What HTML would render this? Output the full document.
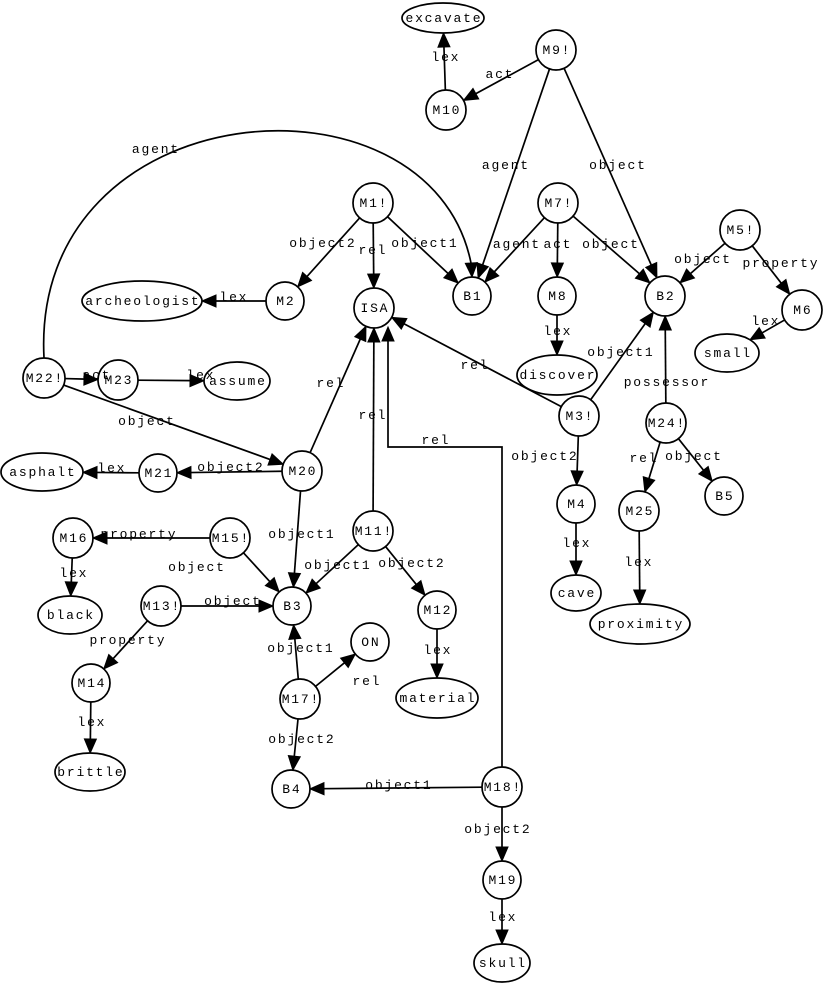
<!DOCTYPE html>
<html><head><meta charset="utf-8"><style>
html,body{margin:0;padding:0;background:#fff;}
svg text{font-family:"Liberation Mono",monospace;font-size:13px;fill:#000;letter-spacing:1.8px;}
</style></head><body>
<svg id="g" width="823" height="983" xmlns="http://www.w3.org/2000/svg"></svg>
<script>
var N={
excavate:[443,18,41,15,'excavate'],M9:[556,50,20,20,'M9!'],M10:[446,110,20,20,'M10'],
M1:[373,203,20,20,'M1!'],M7:[558,203,20,20,'M7!'],M5:[740,230,20,20,'M5!'],
arch:[142,301,60,20,'archeologist'],M2:[285,301,19,19,'M2'],ISA:[374,308,20,20,'ISA'],
B1:[472,296,19,19,'B1'],M8:[557,296,19,19,'M8'],B2:[665,296,20,20,'B2'],M6:[802,310,20,20,'M6'],
small:[727,353,32,19,'small'],discover:[557,375,40,20,'discover'],M22:[44,378,21,20,'M22!'],
M23:[118,380,20,20,'M23'],assume:[237,381,33,19,'assume'],M3:[579,416,20,20,'M3!'],
M24:[666,423,20,20,'M24!'],asphalt:[42,472,41,19,'asphalt'],M21:[158,473,19,19,'M21'],
M20:[302,471,20,20,'M20'],M4:[576,504,19,19,'M4'],M25:[639,511,20,20,'M25'],B5:[724,496,19,19,'B5'],
M11:[373,531,20,20,'M11!'],M16:[73,538,20,20,'M16'],M15:[230,538,20,20,'M15!'],
M13:[161,606,20,20,'M13!'],B3:[292,606,19,19,'B3'],black:[70,615,32,19,'black'],
M12:[437,610,19,19,'M12'],cave:[576,593,25,18,'cave'],proximity:[640,624,50,20,'proximity'],
ON:[370,642,19,19,'ON'],M14:[91,683,19,19,'M14'],M17:[300,699,20,20,'M17!'],
material:[437,698,41,20,'material'],brittle:[90,772,35,19,'brittle'],B4:[291,789,19,19,'B4'],
M18:[502,787,20,20,'M18!'],M19:[502,880,19,19,'M19'],skull:[502,963,28,19,'skull']};
var E=[
['M10','excavate'],['M9','M10'],['M9','B1'],['M9','B2'],['M1','M2'],['M1','ISA'],['M1','B1'],
['M7','B1'],['M7','M8'],['M7','B2'],['M5','B2'],['M5','M6'],['M2','arch'],['M6','small'],
['M8','discover'],['M3','B2'],['M3','ISA'],['M24','B2'],['M22','M23'],['M23','assume'],
['M22','M20'],['M20','ISA'],['M11','ISA'],['M3','M4'],['M24','M25'],['M24','B5'],
['M20','M21'],['M21','asphalt'],['M20','B3'],['M4','cave'],['M25','proximity'],
['M15','M16'],['M15','B3'],['M11','B3'],['M11','M12'],['M16','black'],['M13','B3'],
['M13','M14'],['M17','B3'],['M17','ON'],['M12','material'],['M14','brittle'],['M17','B4'],
['M18','B4'],['M18','M19'],['M19','skull']];
var L=[['lex',445,61],['act',499,78],['agent',155,153],['agent',505,169],['object',617,169],
['object2',322,247],['rel',372,254],['object1',424,247],['agent',516,248],['act',557,248],['object',610,248],
['object',702,263],['property',780,267],['lex',233,301],['lex',765,325],['lex',557,335],['object1',620,356],
['rel',474,369],['possessor',666,386],['act',96,379],['lex',200,379],['rel',330,387],['object',146,425],
['rel',372,419],['rel',435,444],['object2',544,460],['rel',643,462],['object',693,460],['lex',111,472],
['object2',230,471],['object1',301,538],['lex',576,547],['lex',638,566],['property',138,538],['object',196,571],
['object1',337,569],['object2',411,567],['object',232,605],['lex',73,577],['property',127,644],
['object1',300,652],['lex',437,654],['rel',366,685],['lex',91,726],['object2',301,743],['object1',398,789],
['object2',497,833],['lex',502,921]];
var s='';
function bd(n,x,y){var c=N[n],dx=x-c[0],dy=y-c[1];var t=1/Math.sqrt(dx*dx/(c[2]*c[2])+dy*dy/(c[3]*c[3]));return [c[0]+dx*t,c[1]+dy*t];}
function arrow(tx,ty,ux,uy){var l=14,w=6,bx=tx-ux*l,by=ty-uy*l;
return '<polygon points="'+tx+','+ty+' '+(bx-uy*w)+','+(by+ux*w)+' '+(bx+uy*w)+','+(by-ux*w)+'" fill="#000" stroke="#000" stroke-width="1"/>';}
E.forEach(function(e){var a=N[e[0]],b=N[e[1]];var p=bd(e[0],b[0],b[1]),q=bd(e[1],a[0],a[1]);
var dx=q[0]-p[0],dy=q[1]-p[1],d=Math.hypot(dx,dy),ux=dx/d,uy=dy/d;
s+='<line x1="'+p[0]+'" y1="'+p[1]+'" x2="'+(q[0]-ux*12)+'" y2="'+(q[1]-uy*12)+'" stroke="#000" stroke-width="1.7"/>';
s+=arrow(q[0],q[1],ux,uy);});
s+='<path d="M44,358 C30,90 430,60 471,263" fill="none" stroke="#000" stroke-width="1.7"/>'+arrow(472,277,0.05,1);
s+='<polyline points="502,767 502,447 388,447 388,340" fill="none" stroke="#000" stroke-width="1.7"/>'+arrow(388,327,0,-1);
for(var k in N){var c=N[k];s+='<ellipse cx="'+c[0]+'" cy="'+c[1]+'" rx="'+c[2]+'" ry="'+c[3]+'" fill="#fff" stroke="#000" stroke-width="1.7"/>';
s+='<text x="'+(c[0]+0.9)+'" y="'+(c[1]+4)+'" text-anchor="middle">'+c[4]+'</text>';}
L.forEach(function(l){s+='<text x="'+(l[1]+0.9)+'" y="'+l[2]+'" text-anchor="middle">'+l[0]+'</text>';});
document.getElementById('g').innerHTML=s;
</script>
</body></html>
